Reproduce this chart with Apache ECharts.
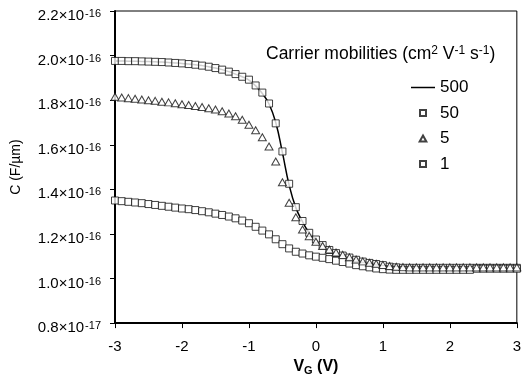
<!DOCTYPE html>
<html>
<head>
<meta charset="utf-8">
<script src="https://cdn.jsdelivr.net/npm/echarts@6/dist/echarts.min.js"></script>
<style>
  html, body { margin: 0; padding: 0; background: #fff; }
  #chart { width: 524px; height: 381px; }
</style>
</head>
<body>
<div id="chart"></div>
<script>
// gate voltage (V)
var vG = [-3.0, -2.9, -2.8, -2.7, -2.6, -2.5, -2.4, -2.3, -2.2, -2.1,
  -2.0, -1.9, -1.8, -1.7, -1.6, -1.5, -1.4, -1.3, -1.2, -1.1,
  -1.0, -0.9, -0.8, -0.7, -0.6, -0.5, -0.4, -0.3, -0.2, -0.1,
  0.0, 0.1, 0.2, 0.3, 0.4, 0.5, 0.6, 0.7, 0.8, 0.9,
  1.0, 1.1, 1.2, 1.3, 1.4, 1.5, 1.6, 1.7, 1.8, 1.9,
  2.0, 2.1, 2.2, 2.3, 2.4, 2.5, 2.6, 2.7, 2.8, 2.9, 3.0];

// capacitance in units of 1e-16 F/um
var c500 = [1.976, 1.976, 1.975, 1.975, 1.974, 1.973, 1.972, 1.971, 1.969, 1.967,
  1.965, 1.962, 1.959, 1.955, 1.950, 1.944, 1.937, 1.928, 1.917, 1.905,
  1.890, 1.864, 1.830, 1.783, 1.700, 1.565, 1.420, 1.318, 1.255, 1.205,
  1.175, 1.150, 1.129, 1.114, 1.103, 1.094, 1.084, 1.076, 1.070, 1.065,
  1.060, 1.054, 1.050, 1.048, 1.047, 1.047, 1.047, 1.047, 1.047, 1.047,
  1.047, 1.047, 1.047, 1.047, 1.047, 1.047, 1.047, 1.047, 1.047, 1.047, 1.047];
var c50 = [1.976, 1.976, 1.975, 1.975, 1.974, 1.973, 1.972, 1.971, 1.969, 1.967,
  1.965, 1.962, 1.959, 1.955, 1.950, 1.944, 1.937, 1.928, 1.917, 1.905,
  1.892, 1.866, 1.834, 1.785, 1.696, 1.570, 1.425, 1.320, 1.258, 1.205,
  1.175, 1.150, 1.128, 1.114, 1.103, 1.094, 1.084, 1.076, 1.070, 1.065,
  1.060, 1.053, 1.050, 1.048, 1.048, 1.048, 1.048, 1.048, 1.048, 1.048,
  1.048, 1.048, 1.048, 1.048, 1.048, 1.048, 1.048, 1.048, 1.048, 1.048, 1.048];
var c5 = [1.815, 1.812, 1.809, 1.806, 1.803, 1.800, 1.797, 1.793, 1.790, 1.786,
  1.782, 1.778, 1.774, 1.769, 1.764, 1.758, 1.750, 1.740, 1.728, 1.712,
  1.690, 1.665, 1.634, 1.592, 1.525, 1.432, 1.340, 1.275, 1.220, 1.190,
  1.165, 1.146, 1.130, 1.117, 1.106, 1.095, 1.085, 1.077, 1.071, 1.066,
  1.061, 1.056, 1.053, 1.051, 1.050, 1.050, 1.050, 1.050, 1.050, 1.050,
  1.050, 1.050, 1.050, 1.050, 1.050, 1.050, 1.050, 1.050, 1.050, 1.050, 1.050];
var c1 = [1.350, 1.347, 1.344, 1.341, 1.338, 1.334, 1.330, 1.326, 1.322, 1.318,
  1.314, 1.311, 1.307, 1.302, 1.297, 1.291, 1.285, 1.278, 1.270, 1.260,
  1.248, 1.232, 1.215, 1.198, 1.176, 1.154, 1.135, 1.120, 1.112, 1.104,
  1.098, 1.093, 1.087, 1.080, 1.074, 1.067, 1.060, 1.055, 1.050, 1.045,
  1.042, 1.040, 1.039, 1.039, 1.039, 1.039, 1.039, 1.039, 1.039, 1.039,
  1.039, 1.039, 1.039, 1.039, 1.044, 1.044, 1.044, 1.044, 1.044, 1.044, 1.044];

var seriesNames = ['500', '50', '5', '1'];
var yTickValues = [0.8, 1.0, 1.2, 1.4, 1.6, 1.8, 2.0, 2.2];
var yTickMantissa = ['0.8', '1.0', '1.2', '1.4', '1.6', '1.8', '2.0', '2.2'];
var yTickExp = ['-17', '-16', '-16', '-16', '-16', '-16', '-16', '-16'];

function pairs(ys) {
  return vG.map(function (x, i) { return [x, ys[i]]; });
}

var font = '"Liberation Sans", Arial, sans-serif';
var chart = echarts.init(document.getElementById('chart'));

var markerStyle = { color: '#fff', borderColor: '#111', borderWidth: 1 };
var squareIcon = 'path://M0,0H10V10H0Z';
var triangleIcon = 'path://M5,0L10,9H0Z';
var lineIcon = 'path://M0,0H24V1.5H0Z';

var option = {
  backgroundColor: '#ffffff',
  animation: false,
  grid: {
    left: 115, right: 1, top: 11, bottom: 51,
    show: true, borderColor: '#000', borderWidth: 1
  },
  title: {
    text: 'Carrier mobilities (cm{s|2} V{s|-1} s{s|-1})',
    left: 261, top: 40,
    textStyle: {
      fontFamily: font, fontSize: 17.5, fontWeight: 'normal', color: '#000',
      rich: {
        s: { fontFamily: font, fontSize: 12, color: '#000', verticalAlign: 'top', lineHeight: 10 }
      }
    }
  },
  legend: {
    data: [
      { name: seriesNames[0], icon: lineIcon },
      { name: seriesNames[1], icon: squareIcon },
      { name: seriesNames[2], icon: triangleIcon },
      { name: seriesNames[3], icon: squareIcon }
    ],
    orient: 'vertical',
    left: 406, top: 74,
    itemGap: 8.5,
    itemWidth: 24, itemHeight: 6,
    symbolKeepAspect: true,
    textStyle: { fontFamily: font, fontSize: 17, color: '#000' }
  },
  xAxis: {
    type: 'value',
    min: -3, max: 3, interval: 1,
    name: '{b|V}{sub|G}{b| (V)}',
    nameLocation: 'middle', nameGap: 34,
    nameTextStyle: {
      rich: {
        b: { fontFamily: font, fontSize: 16, fontWeight: 'bold', color: '#000', lineHeight: 18 },
        sub: { fontFamily: font, fontSize: 11, fontWeight: 'bold', color: '#000', verticalAlign: 'bottom', lineHeight: 14 }
      }
    },
    splitLine: { show: false },
    axisLine: { onZero: false, lineStyle: { color: '#000', width: 2 } },
    axisTick: { show: true, length: 5, lineStyle: { color: '#000', width: 1 } },
    axisLabel: {
      fontFamily: font, fontSize: 15, color: '#000', margin: 16,
      showMaxLabel: true, showMinLabel: true
    }
  },
  yAxis: {
    type: 'value',
    min: 0.8, max: 2.2, interval: 0.2,
    name: 'C (F/µm)',
    nameLocation: 'middle', nameGap: 92,
    nameTextStyle: { fontFamily: font, fontSize: 14, color: '#000' },
    splitLine: { show: false },
    axisLine: { onZero: false, lineStyle: { color: '#000', width: 2 } },
    axisTick: { show: true, length: 5, lineStyle: { color: '#000', width: 1 } },
    axisLabel: {
      margin: 14,
      fontSize: 15,
      fontFamily: font,
      color: '#000',
      padding: [10, 0, 0, 0],
      formatter: function (v) {
        for (var i = 0; i < yTickValues.length; i++) {
          if (Math.abs(yTickValues[i] - v) < 1e-6) {
            return '{m|' + yTickMantissa[i] + '×10}{e|' + yTickExp[i] + '}';
          }
        }
        return '';
      },
      rich: {
        m: { fontSize: 15, fontFamily: font },
        e: { fontSize: 11, fontFamily: font, verticalAlign: 'top', lineHeight: 11, padding: [0, 0, 0, 1] }
      }
    }
  },
  series: [
    {
      name: seriesNames[0], type: 'line', data: pairs(c500),
      smooth: true, symbol: 'none',
      lineStyle: { color: '#000', width: 1.5 },
      itemStyle: { color: '#000' }, z: 1
    },
    {
      name: seriesNames[1], type: 'scatter', data: pairs(c50),
      symbol: 'rect', symbolSize: 7,
      itemStyle: markerStyle, z: 2
    },
    {
      name: seriesNames[2], type: 'scatter', data: pairs(c5),
      symbol: 'triangle', symbolSize: [8, 7],
      itemStyle: markerStyle, z: 3
    },
    {
      name: seriesNames[3], type: 'scatter', data: pairs(c1),
      symbol: 'rect', symbolSize: 7,
      itemStyle: markerStyle, z: 2
    }
  ]
};

chart.setOption(option);
</script>
</body>
</html>
